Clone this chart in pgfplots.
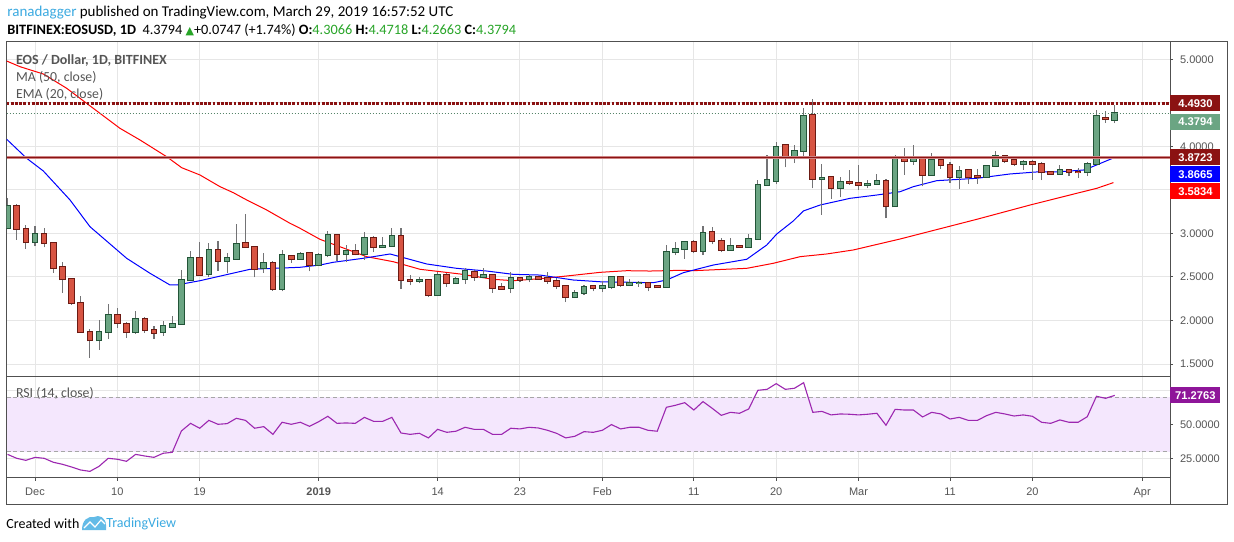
\documentclass[border=0pt]{standalone}
\usepackage{pgfplots}
\pgfplotsset{compat=1.18}
\usepackage{pgfplotstable}
\usepackage{fontspec}
\setmainfont{Liberation Sans}
\newfontfamily\carl{Carlito}
\newfontfamily\dejavu{DejaVu Sans}

\definecolor{upfill}{RGB}{107,165,131}
\definecolor{upline}{RGB}{34,84,55}
\definecolor{dnfill}{RGB}{215,84,66}
\definecolor{dnline}{RGB}{107,26,19}
\definecolor{wick}{RGB}{115,115,117}
\definecolor{gridc}{RGB}{230,230,230}
\definecolor{axisc}{RGB}{80,80,80}
\definecolor{txtc}{RGB}{85,85,85}
\definecolor{resist}{RGB}{139,18,18}
\definecolor{resistl}{RGB}{205,130,130}
\definecolor{rsic}{RGB}{156,39,176}
\definecolor{rsiband}{RGB}{244,231,253}
\definecolor{rsitag}{RGB}{142,21,153}
\definecolor{tvblue}{RGB}{60,170,225}
\definecolor{hdrgreen}{RGB}{40,165,40}
\definecolor{maRed}{RGB}{255,0,0}
\definecolor{emaBlue}{RGB}{0,0,255}

\pgfplotstableread{
d O H L C
-3 3.062 3.408 3.050 3.319
0 2.901 3.089 2.851 2.993
7 1.773 2.007 1.665 1.865
8 1.865 2.187 1.791 2.061
11 1.872 2.110 1.846 2.015
14 1.865 1.995 1.826 1.938
15 1.930 2.053 1.930 1.961
16 1.957 2.582 1.957 2.467
17 2.463 2.793 2.463 2.716
19 2.533 2.889 2.505 2.809
21 2.682 2.774 2.551 2.716
22 2.708 3.112 2.708 2.878
25 2.602 2.774 2.551 2.659
27 2.367 2.813 2.333 2.751
29 2.705 2.790 2.705 2.759
31 2.632 2.780 2.630 2.751
32 2.747 3.032 2.728 2.982
34 2.763 2.870 2.671 2.798
36 2.763 3.013 2.698 2.947
38 2.844 2.963 2.840 2.855
39 2.855 3.062 2.850 2.970
42 2.452 2.505 2.429 2.467
44 2.290 2.556 2.290 2.521
46 2.425 2.498 2.418 2.479
47 2.475 2.605 2.418 2.571
49 2.498 2.605 2.487 2.521
52 2.372 2.559 2.313 2.487
54 2.475 2.517 2.440 2.498
59 2.267 2.352 2.256 2.313
60 2.313 2.406 2.294 2.379
62 2.372 2.448 2.326 2.394
63 2.383 2.513 2.360 2.498
65 2.406 2.478 2.398 2.436
66 2.429 2.456 2.390 2.436
69 2.383 2.870 2.383 2.786
70 2.786 2.897 2.751 2.821
71 2.821 2.909 2.709 2.901
73 2.798 3.081 2.755 3.005
76 2.809 2.947 2.809 2.859
78 2.844 2.997 2.844 2.936
79 2.936 3.618 2.936 3.558
80 3.558 3.903 3.558 3.615
81 3.604 4.048 3.564 3.995
83 3.887 4.021 3.806 3.949
84 3.949 4.436 3.887 4.352
86 3.627 3.803 3.213 3.638
88 3.523 3.650 3.414 3.592
91 3.558 3.619 3.518 3.569
92 3.569 3.684 3.569 3.607
94 3.311 3.895 3.304 3.857
96 3.834 4.021 3.791 3.857
98 3.673 3.918 3.673 3.846
101 3.650 3.776 3.511 3.719
104 3.650 3.776 3.650 3.776
105 3.776 3.944 3.776 3.887
108 3.803 3.849 3.734 3.826
112 3.688 3.788 3.673 3.730
115 3.700 3.818 3.657 3.803
116 3.803 4.413 3.803 4.344
118 4.3066 4.4718 4.2663 4.3794
}\up

\pgfplotstableread{
d O H L C
-2 3.319 3.342 2.928 3.051
-1 3.051 3.100 2.824 2.901
1 2.993 3.062 2.839 2.889
2 2.889 2.895 2.551 2.602
3 2.613 2.674 2.321 2.475
4 2.475 2.487 2.179 2.199
5 2.206 2.283 1.865 1.865
6 1.872 1.899 1.573 1.773
9 2.061 2.145 1.918 1.969
10 1.957 1.984 1.803 1.865
12 2.015 2.041 1.861 1.888
13 1.888 1.938 1.791 1.861
18 2.716 2.905 2.517 2.528
20 2.809 2.916 2.574 2.682
23 2.889 3.227 2.844 2.844
24 2.844 2.844 2.494 2.590
26 2.659 2.678 2.340 2.367
28 2.740 2.740 2.666 2.705
30 2.774 2.774 2.563 2.636
33 2.982 2.982 2.686 2.763
35 2.798 2.882 2.747 2.763
37 2.947 2.974 2.786 2.844
40 2.970 3.062 2.360 2.463
41 2.467 2.521 2.402 2.452
43 2.467 2.478 2.275 2.290
45 2.521 2.540 2.387 2.425
48 2.559 2.579 2.456 2.498
50 2.521 2.521 2.321 2.372
51 2.379 2.425 2.352 2.364
53 2.487 2.490 2.440 2.467
55 2.502 2.510 2.479 2.479
56 2.490 2.559 2.421 2.452
57 2.452 2.490 2.360 2.398
58 2.394 2.409 2.210 2.267
61 2.394 2.409 2.333 2.372
64 2.498 2.513 2.390 2.402
67 2.436 2.440 2.333 2.390
68 2.398 2.398 2.379 2.379
72 2.901 2.928 2.770 2.798
74 3.016 3.070 2.874 2.912
75 2.912 2.947 2.782 2.809
77 2.859 2.859 2.844 2.844
82 4.010 4.021 3.760 3.887
85 4.363 4.548 3.518 3.627
87 3.650 3.665 3.396 3.523
89 3.596 3.734 3.558 3.581
90 3.581 3.791 3.500 3.558
93 3.607 3.627 3.173 3.311
95 3.857 3.983 3.673 3.834
97 3.857 3.864 3.541 3.669
99 3.838 3.849 3.742 3.788
100 3.788 3.826 3.581 3.650
102 3.730 3.738 3.572 3.650
103 3.654 3.742 3.572 3.646
106 3.887 3.895 3.814 3.834
107 3.838 3.849 3.772 3.803
109 3.826 3.849 3.619 3.803
110 3.803 3.818 3.611 3.700
111 3.700 3.714 3.680 3.688
113 3.730 3.738 3.657 3.700
114 3.707 3.749 3.634 3.700
117 4.325 4.401 4.271 4.313
}\down

\pgfplotstableread{
d p
-3.09 4.081
-0.91 3.863
0.91 3.717
3.83 3.384
6.01 3.077
10.02 2.714
12.57 2.542
14.75 2.408
15.49 2.408
18.03 2.457
23.5 2.588
28.96 2.611
31.15 2.637
32.57 2.668
35.85 2.714
38.8 2.764
42.81 2.649
46.09 2.599
49.37 2.568
52.27 2.530
55.19 2.522
58.83 2.465
61.75 2.445
67.57 2.434
69.04 2.465
70.85 2.549
74.13 2.637
77.78 2.703
79.97 2.867
81.06 2.993
82.87 3.143
83.97 3.258
85.79 3.326
89.07 3.403
91.99 3.441
94.54 3.479
95.99 3.537
98.55 3.606
102.92 3.633
106.56 3.683
109.48 3.706
111.66 3.706
114.57 3.728
115.3 3.755
117.85 3.8665
}\ema

\pgfplotstableread{
d p
-3.09 4.980
-1.64 4.915
0.91 4.831
3.46 4.667
6.37 4.437
9.29 4.207
11.48 4.073
14.39 3.881
16.03 3.755
18.03 3.671
20.22 3.537
21.67 3.468
23.14 3.384
25.32 3.269
27.87 3.116
28.96 3.059
31.15 2.932
36.25 2.733
39.16 2.675
42.08 2.588
46.45 2.534
50.09 2.473
52.27 2.457
55.19 2.480
58.11 2.511
61.75 2.553
64.67 2.572
67.21 2.568
70.49 2.576
71.95 2.572
77.78 2.599
80.69 2.657
83.61 2.733
86.52 2.764
89.43 2.810
94.54 2.936
102.92 3.162
108.74 3.326
113.85 3.461
116.03 3.518
117.85 3.5834
}\ma

\pgfplotstableread{
d r
-3 27.9
-2 25.0
-1 23.5
0 25.7
1 25.0
2 22.1
3 20.6
4 18.6
5 16.4
6 15.4
7 19.1
8 25.0
9 24.3
10 22.8
11 27.9
12 26.7
13 25.7
14 28.7
15 29.4
16 45.1
17 50.7
18 47.1
19 52.9
20 50.0
21 50.5
22 54.4
23 52.9
24 47.1
25 48.3
26 42.6
27 51.5
28 50.0
29 51.5
30 48.5
31 51.9
32 55.9
33 50.7
34 51.0
35 50.7
36 55.1
37 52.2
38 52.2
39 55.1
40 43.6
41 42.6
42 43.4
43 40.0
44 46.3
45 44.1
46 44.9
47 47.8
48 46.3
49 46.3
50 42.6
51 42.6
52 47.1
53 46.6
54 47.8
55 47.3
56 45.6
57 43.4
58 40.0
59 41.2
60 44.6
61 44.1
62 45.6
63 49.8
64 46.6
65 47.8
66 47.8
67 45.6
68 44.9
69 62.5
70 64.0
71 65.9
72 60.5
73 66.7
74 61.8
75 56.6
76 58.8
77 58.1
78 61.3
79 75.0
80 75.7
81 79.9
82 75.7
83 76.5
84 80.6
85 58.8
86 59.5
87 56.9
88 57.6
89 57.4
90 56.9
91 57.4
92 58.1
93 49.3
94 61.0
95 60.5
96 60.5
97 55.4
98 58.8
99 57.6
100 53.9
101 55.1
102 52.9
103 52.9
104 56.4
105 58.8
106 57.6
107 56.1
108 56.9
109 55.9
110 51.5
111 50.7
112 53.2
113 51.5
114 51.5
115 55.6
116 70.6
117 69.1
118 71.2763
}\rsi

\tikzset{tag/.style={anchor=west, inner sep=0pt, minimum width=25pt, minimum height=8pt,
  text=white, font=\bfseries\fontsize{5.6}{6}\selectfont}}

\begin{document}
\begin{tikzpicture}
\path[use as bounding box] (0,0) rectangle (617pt,270.5pt);
\fill[white] (0,0) rectangle (617pt,270.5pt);

% ---------------- main price pane ----------------
\begin{axis}[
  at={(3.35pt,82.35pt)}, anchor=south west, scale only axis,
  width=581.65pt, height=167.3pt,
  xmin=-3.093, xmax=124.04, ymin=1.359, ymax=5.202,
  axis line style={draw=axisc, line width=0.5pt},
  xtick={0,9,18,31,44,53,62,72,81,90,100,109,121},
  xticklabels={,,,,,,,,,,,,}, x tick style={draw=none},
  ytick={1.5,2,2.5,3,3.5,4,4.5,5},
  yticklabels={1.5000,2.0000,2.5000,3.0000,,4.0000,,5.0000},
  ytick pos=right, yticklabel pos=right,
  tick align=outside, major tick length=1.5pt,
  y tick style={draw=axisc, line width=0.5pt},
  grid=major, major grid style={draw=gridc, line width=0.5pt},
  yticklabel style={font=\fontsize{5.5}{6}\selectfont, text=txtc},
]
\addplot[maRed, line width=0.5pt, mark=none] table[x=d, y=p] {\ma};
\addplot[emaBlue, line width=0.5pt, mark=none] table[x=d, y=p] {\ema};
% wicks
\addplot[draw=none, mark=none, forget plot, error bars/.cd, y dir=plus, y explicit, error mark=none,
  error bar style={draw=wick, line width=0.55pt, solid}]
  table[x=d, y=L, y error plus expr=\thisrow{H}-\thisrow{L}] {\up};
\addplot[draw=none, mark=none, forget plot, error bars/.cd, y dir=plus, y explicit, error mark=none,
  error bar style={draw=wick, line width=0.55pt, solid}]
  table[x=d, y=L, y error plus expr=\thisrow{H}-\thisrow{L}] {\down};
% bodies: border
\addplot[draw=none, mark=none, forget plot, error bars/.cd, y dir=plus, y explicit, error mark=none,
  error bar style={draw=upline, line width=3.3pt, solid}]
  table[x=d, y expr=\thisrow{O}-0.0115, y error plus expr=\thisrow{C}-\thisrow{O}+0.023] {\up};
\addplot[draw=none, mark=none, forget plot, error bars/.cd, y dir=plus, y explicit, error mark=none,
  error bar style={draw=dnline, line width=3.3pt, solid}]
  table[x=d, y expr=\thisrow{C}-0.0115, y error plus expr=\thisrow{O}-\thisrow{C}+0.023] {\down};
% bodies: fill
\addplot[draw=none, mark=none, forget plot, error bars/.cd, y dir=plus, y explicit, error mark=none,
  error bar style={draw=upfill, line width=2.3pt, solid}]
  table[x=d, y=O, y error plus expr=\thisrow{C}-\thisrow{O}] {\up};
\addplot[draw=none, mark=none, forget plot, error bars/.cd, y dir=plus, y explicit, error mark=none,
  error bar style={draw=dnfill, line width=2.3pt, solid}]
  table[x=d, y=C, y error plus expr=\thisrow{O}-\thisrow{C}] {\down};
% horizontal levels
\addplot[resistl, line width=1.5pt, mark=none] coordinates {(-3.093,3.8723) (124.04,3.8723)};
\addplot[resist, line width=0.8pt, mark=none] coordinates {(-3.093,3.8723) (124.04,3.8723)};
\addplot[resist, line width=1.1pt, mark=none, dash pattern=on 1.4pt off 0.7pt] coordinates {(-3.093,4.4930) (124.04,4.4930)};
\addplot[upfill!80!black, line width=0.45pt, mark=none, dash pattern=on 0.6pt off 0.9pt] coordinates {(-3.093,4.3794) (124.04,4.3794)};
\coordinate (tA) at (axis cs:124.04,4.4930);
\coordinate (tB) at (axis cs:124.04,4.3794);
\coordinate (tC) at (axis cs:124.04,3.8723);
\coordinate (tD) at (axis cs:124.04,3.8665);
\coordinate (tE) at (axis cs:124.04,3.5834);
\end{axis}

% ---------------- RSI pane ----------------
\begin{axis}[
  at={(3.35pt,31.65pt)}, anchor=south west, scale only axis,
  width=581.65pt, height=50.7pt,
  xmin=-3.093, xmax=124.04, ymin=10.74, ymax=85.29,
  axis line style={draw=axisc, line width=0.5pt},
  xtick={0,9,18,31,44,53,62,72,81,90,100,109,121},
  xticklabels={Dec,10,19,\textbf{2019},14,23,Feb,11,20,Mar,11,20,Apr},
  xtick pos=left,
  ytick={25,50,75}, yticklabels={25.0000,50.0000,},
  ytick pos=right, yticklabel pos=right,
  tick align=outside, major tick length=1.5pt,
  tick style={draw=axisc, line width=0.5pt},
  grid=major, major grid style={draw=gridc, line width=0.5pt},
  yticklabel style={font=\fontsize{5.5}{6}\selectfont, text=txtc},
  xticklabel style={font=\fontsize{5.5}{6}\selectfont, text=txtc},
]
\addplot[fill=rsiband, draw=none, mark=none] coordinates {(-3.093,30) (-3.093,70) (124.04,70) (124.04,30)} -- cycle;
\addplot[draw=black!35, line width=0.5pt, dash pattern=on 2pt off 1.4pt, mark=none] coordinates {(-3.093,70) (124.04,70)};
\addplot[draw=black!35, line width=0.5pt, dash pattern=on 2pt off 1.4pt, mark=none] coordinates {(-3.093,30) (124.04,30)};
\addplot[rsic, line width=0.55pt, mark=none] table[x=d, y=r] {\rsi};
\coordinate (tR) at (axis cs:124.04,71.2763);
\end{axis}

% tags
\node[tag, fill=resist] at (tA) {4.4930};
\node[tag, fill=upfill, yshift=-4.2pt] at (tB) {4.3794};
\node[tag, fill=resist] at (tC) {3.8723};
\node[tag, fill=emaBlue, yshift=-8.1pt] at (tD) {3.8665};
\node[tag, fill=maRed, yshift=-4.35pt] at (tE) {3.5834};
\node[tag, fill=rsitag] at (tR) {71.2763};

\begin{scope}[shift={(0pt,270.5pt)}, x=0.5pt, y=-0.5pt]
  % frame
  \draw[axisc, line width=0.5pt] (6.7,477.7) -- (6.7,504.3) -- (1227,504.3) -- (1227,41.7) -- (1170,41.7);
  \draw[axisc, line width=0.5pt] (1170.4,477.7) -- (1170.4,504.3);
  % header
  \node[anchor=west, inner sep=0pt] at (7,12.7) {\carl\fontsize{7.5}{8}\selectfont\textcolor{tvblue}{ranadagger} published on TradingView.com, March 29, 2019 16:57:52 UTC};
  \node[anchor=west, inner sep=0pt] at (7,30) {\carl\fontsize{7.15}{8}\selectfont\textbf{BITFINEX:EOSUSD, 1D}\ \ 4.3794 \textcolor{hdrgreen}{\dejavu\fontsize{5.5}{6}\selectfont ▲}+0.0747 (+1.74\%) \textbf{O:}\textcolor{hdrgreen}{4.3066} \textbf{H:}\textcolor{hdrgreen}{4.4718} \textbf{L:}\textcolor{hdrgreen}{4.2663} \textbf{C:}\textcolor{hdrgreen}{4.3794}};
  % pane legends
  \node[anchor=west, inner sep=0pt, text=txtc] at (15.7,61) {\carl\bfseries\fontsize{7}{7}\selectfont EOS / Dollar, 1D, BITFINEX};
  \node[anchor=west, inner sep=0pt, text=txtc] at (15.7,77.7) {\carl\fontsize{6.9}{7}\selectfont MA (50, close)};
  \node[anchor=west, inner sep=0pt, text=txtc] at (15.7,94.7) {\carl\fontsize{6.9}{7}\selectfont EMA (20, close)};
  \node[anchor=west, inner sep=0pt, text=txtc] at (15.7,393.7) {\carl\fontsize{6.9}{7}\selectfont RSI (14, close)};
  % footer
  \node[anchor=west, inner sep=0pt] at (6,523.5) {\carl\fontsize{7}{8}\selectfont Created with};
  \fill[tvblue!80] (82,530) .. controls (82,520) and (88,516) .. (94,517) .. controls (99,514) and (106,518) .. (106,525) -- (106,530) -- cycle;
  \draw[white, line width=0.6pt] (84,528) -- (90,522) -- (95,527) -- (101,520) -- (105,524);
  \node[anchor=west, inner sep=0pt, text=tvblue] at (106,523.5) {\carl\fontsize{7}{8}\selectfont TradingView};
\end{scope}
\end{tikzpicture}
\end{document}
